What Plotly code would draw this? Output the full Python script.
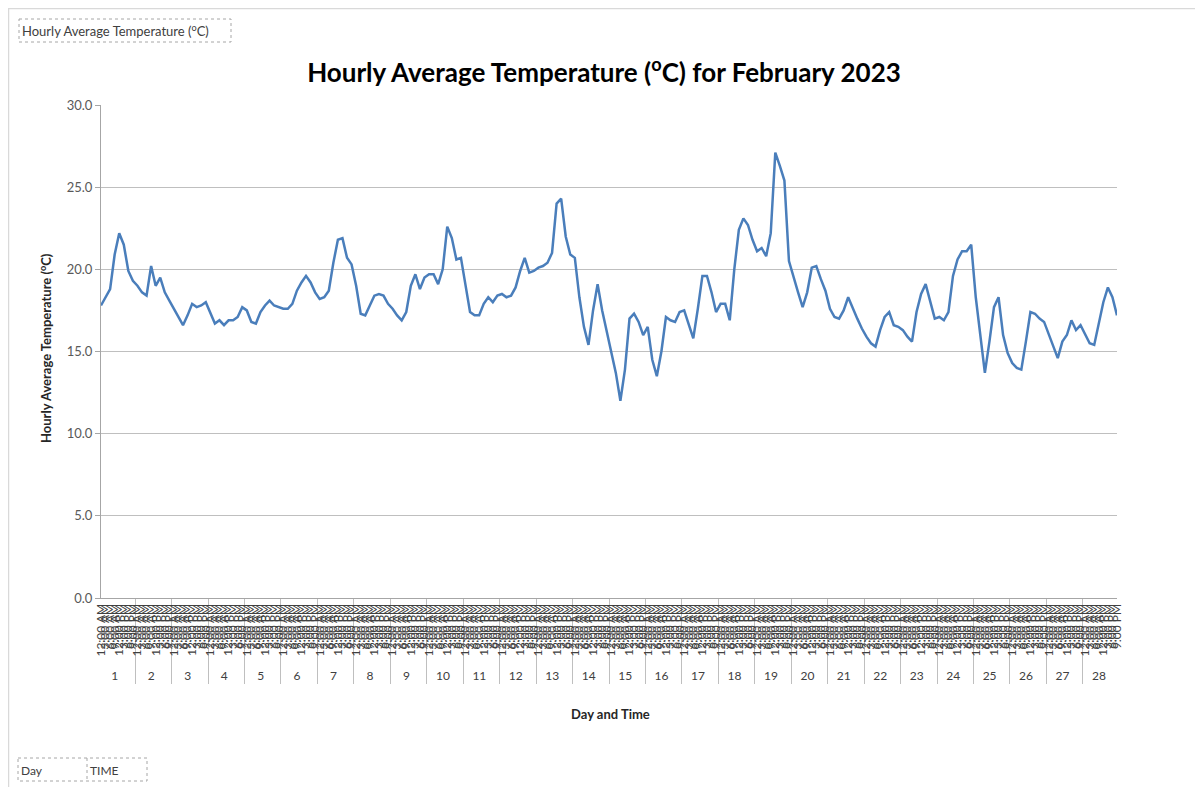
import plotly.graph_objects as go

# ---- data (3-hourly samples) ----
day_labels = [str(d) for d in range(1, 29)]
time_labels = ["12:00 AM", "3:00 AM", "6:00 AM", "9:00 AM",
               "12:00 PM", "3:00 PM", "6:00 PM", "9:00 PM"]
temperature = [
    17.8, 18.3, 18.8, 20.9, 22.2, 21.5, 19.9, 19.3,   # 1
    19.0, 18.6, 18.4, 20.2, 19.0, 19.5, 18.6, 18.1,   # 2
    17.6, 17.1, 16.6, 17.2, 17.9, 17.7, 17.8, 18.0,   # 3
    17.4, 16.7, 16.9, 16.6, 16.9, 16.9, 17.1, 17.7,   # 4
    17.5, 16.8, 16.7, 17.4, 17.8, 18.1, 17.8, 17.7,   # 5
    17.6, 17.6, 17.9, 18.7, 19.2, 19.6, 19.2, 18.6,   # 6
    18.2, 18.3, 18.7, 20.4, 21.8, 21.9, 20.7, 20.3,   # 7
    19.0, 17.3, 17.2, 17.8, 18.4, 18.5, 18.4, 17.9,   # 8
    17.6, 17.2, 16.9, 17.4, 19.0, 19.7, 18.8, 19.5,   # 9
    19.7, 19.7, 19.1, 20.0, 22.6, 21.9, 20.6, 20.7,   # 10
    19.0, 17.4, 17.2, 17.2, 17.9, 18.3, 18.0, 18.4,   # 11
    18.5, 18.3, 18.4, 18.9, 19.9, 20.7, 19.8, 19.9,   # 12
    20.1, 20.2, 20.4, 21.0, 24.0, 24.3, 22.0, 20.9,   # 13
    20.7, 18.3, 16.5, 15.4, 17.5, 19.1, 17.5, 16.3,   # 14
    14.9, 13.7, 12.0, 13.9, 17.0, 17.3, 16.8, 16.0,   # 15
    16.5, 14.5, 13.5, 15.0, 17.1, 16.9, 16.8, 17.4,   # 16
    17.5, 16.6, 15.8, 17.6, 19.6, 19.6, 18.6, 17.4,   # 17
    17.9, 17.9, 16.9, 20.0, 22.4, 23.1, 22.7, 21.8,   # 18
    21.1, 21.3, 20.8, 22.2, 27.1, 26.3, 25.4, 20.5,   # 19
    19.5, 18.6, 17.7, 18.6, 20.1, 20.2, 19.4, 18.7,   # 20
    17.6, 17.1, 17.0, 17.5, 18.3, 17.6, 17.0, 16.4,   # 21
    15.9, 15.5, 15.3, 16.3, 17.1, 17.4, 16.6, 16.5,   # 22
    16.3, 15.9, 15.6, 17.4, 18.5, 19.1, 18.0, 17.0,   # 23
    17.1, 16.9, 17.4, 19.6, 20.6, 21.1, 21.1, 21.5,   # 24
    18.3, 15.8, 13.7, 15.6, 17.7, 18.3, 16.0, 14.9,   # 25
    14.3, 14.0, 13.9, 15.6, 17.4, 17.3, 17.0, 16.8,   # 26
    16.1, 15.3, 14.6, 15.6, 16.0, 16.9, 16.3, 16.6,   # 27
    16.0, 15.5, 15.4, 16.8, 18.0, 18.9, 18.3, 17.2,   # 28
]
y_ticks = [0, 5, 10, 15, 20, 25, 30]

x_day = [d for d in day_labels for _ in time_labels]
x_time = [t for _ in day_labels for t in time_labels]

FONT = "Lato, Liberation Sans, sans-serif"
GRAY = "#595959"

fig = go.Figure()
fig.add_trace(go.Scatter(
    x=[x_day, x_time], y=temperature, mode="lines",
    line=dict(color="#4A7EBB", width=2.5),
    showlegend=False,
))

# page has an 8px body margin: work in page pixels
OFF = 8
L, R, T, B = 101, 1117, 105, 598          # plot area in page pixels
PW, PH = 1203, 787                         # visible page
W, H = PW - OFF, PH - OFF                  # figure size


def px(xp):
    return (xp - L) / (R - L)


def py(yp):
    return (B - yp) / (B - T)


shapes = [
    # chart outer border
    dict(type="rect", xref="paper", yref="paper",
         x0=px(8.5), x1=px(1200), y0=py(8.5), y1=py(795),
         line=dict(color="#D9D9D9", width=1.5)),
    # field button top-left
    dict(type="rect", xref="paper", yref="paper",
         x0=px(19), x1=px(231), y0=py(19), y1=py(42),
         line=dict(color="#A6A6A6", width=1, dash="dot")),
    # field buttons bottom-left
    dict(type="rect", xref="paper", yref="paper",
         x0=px(18), x1=px(147), y0=py(758), y1=py(781),
         line=dict(color="#A6A6A6", width=1, dash="dot")),
    dict(type="line", xref="paper", yref="paper",
         x0=px(87), x1=px(87), y0=py(758), y1=py(781),
         line=dict(color="#A6A6A6", width=1, dash="dot")),
]

annotations = [
    dict(text="Hourly Average Temperature (<sup>o</sup>C)", xref="paper", yref="paper",
         x=px(20), y=py(30.5), xanchor="left", yanchor="middle", showarrow=False,
         font=dict(family=FONT, size=13, color="#404040")),
    dict(text="Day", xref="paper", yref="paper",
         x=px(19), y=py(770), xanchor="left", yanchor="middle", showarrow=False,
         font=dict(family=FONT, size=12, color="#404040")),
    dict(text="TIME", xref="paper", yref="paper",
         x=px(88), y=py(770), xanchor="left", yanchor="middle", showarrow=False,
         font=dict(family=FONT, size=12, color="#404040")),
    dict(text="<b>Day and Time</b>", xref="paper", yref="paper",
         x=px(610), y=py(714), xanchor="center", yanchor="middle", showarrow=False,
         font=dict(family=FONT, size=13, color="#262626")),
    dict(text="<b>Hourly Average Temperature (<sup>o</sup>C)</b>", xref="paper", yref="paper",
         x=px(45), y=py(348), xanchor="center", yanchor="middle", showarrow=False,
         textangle=-90, font=dict(family=FONT, size=13, color="#262626")),
]

fig.update_layout(
    width=W, height=H,
    margin=dict(l=L - OFF, r=PW - R, t=T - OFF, b=PH - B),
    paper_bgcolor="white", plot_bgcolor="white",
    title=dict(text="<b>Hourly Average Temperature (<sup>o</sup>C) for February 2023</b>",
               x=(604 - OFF) / W, xanchor="center", y=1 - (73 - OFF) / H, yanchor="middle",
               font=dict(family=FONT, size=26, color="#000000")),
    shapes=shapes, annotations=annotations,
    xaxis=dict(
        type="multicategory", showline=True, linecolor="#A6A6A6", linewidth=1,
        tickmode="linear", tick0=0, dtick=1,
        tickangle=-90, tickfont=dict(family=FONT, size=12, color="#404040"),
        showdividers=True, dividercolor="#BFBFBF", dividerwidth=1,
        showgrid=False, ticks="", fixedrange=True,
    ),
    yaxis=dict(
        range=[0, 30], tickvals=y_ticks, tickformat=".1f",
        showgrid=True, gridcolor="#BFBFBF", gridwidth=1,
        showline=True, linecolor="#A6A6A6", linewidth=1,
        ticks="outside", ticklen=5, tickcolor="#A6A6A6",
        tickfont=dict(family=FONT, size=13, color=GRAY),
        zeroline=False,
    ),
)

fig.write_html("out.html")
